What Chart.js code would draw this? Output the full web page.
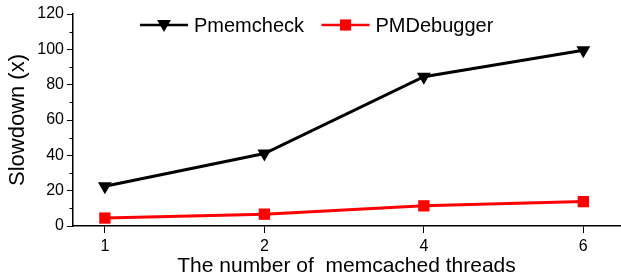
<!DOCTYPE html>
<html><head><meta charset="utf-8">
<script src="https://cdn.jsdelivr.net/npm/chart.js@4"></script>
<style>html,body{margin:0;padding:0;background:#fff}#wrap{width:621px;height:279px}</style>
</head><body><div id="wrap"><canvas id="c" width="621" height="279"></canvas></div>
<script>
const threadLabels = ['1', '2', '4', '6'];
const pmemcheck = [22.5, 41, 84.5, 99.5];
const pmdebugger = [4.5, 6.7, 11.4, 13.8];
const seriesNames = ['Pmemcheck', 'PMDebugger'];
const seriesColors = ['#000000', '#ff0000'];
const seriesMarkers = ['triangle', 'rect'];
const yTickStep = 20;
const yMax = 120;
const xTitle = 'The number of  memcached threads';
const yTitle = 'Slowdown (x)';

const FONT = '"Liberation Sans", Arial, sans-serif';

function toPoints(vals) { return vals.map((v, i) => ({ x: i + 1, y: v })); }

function drawMarker(ctx, type, x, y, color) {
  ctx.save();
  ctx.fillStyle = color;
  ctx.beginPath();
  if (type === 'triangle') {
    const r = 8;
    ctx.moveTo(x, y + r);
    ctx.lineTo(x - r * Math.sin(Math.PI / 3), y - r / 2);
    ctx.lineTo(x + r * Math.sin(Math.PI / 3), y - r / 2);
    ctx.closePath();
  } else {
    const s = 5.6;
    ctx.rect(x - s, y - s, 2 * s, 2 * s);
  }
  ctx.fill();
  ctx.restore();
}

const extras = {
  id: 'extras',
  afterDraw(chart) {
    const ctx = chart.ctx;
    const ys = chart.scales.y;
    const ca = chart.chartArea;
    ctx.save();
    ctx.strokeStyle = '#000';
    ctx.lineWidth = 1;
    for (let v = yTickStep / 2; v < yMax; v += yTickStep) {
      const py = Math.round(ys.getPixelForValue(v)) + 0.5;
      ctx.beginPath();
      ctx.moveTo(ca.left - 3.5, py);
      ctx.lineTo(ca.left, py);
      ctx.stroke();
    }
    ctx.restore();
    ctx.save();
    ctx.font = '20px ' + FONT;
    ctx.textBaseline = 'middle';
    ctx.textAlign = 'left';
    let x = ca.left + 67;
    const y = ca.top + 11;
    chart.data.datasets.forEach((ds, i) => {
      ctx.strokeStyle = ds.borderColor;
      ctx.lineWidth = 2.6;
      ctx.beginPath();
      ctx.moveTo(x, y);
      ctx.lineTo(x + 48, y);
      ctx.stroke();
      drawMarker(ctx, seriesMarkers[i], x + 24, y + (seriesMarkers[i] === 'triangle' ? -1 : 0), ds.borderColor);
      ctx.fillStyle = '#000';
      ctx.fillText(ds.label, x + 54, y + 1);
      x += 54 + ctx.measureText(ds.label).width + 17.5;
    });
    ctx.restore();
  }
};

new Chart(document.getElementById('c'), {
  type: 'line',
  data: {
    datasets: seriesNames.map((name, i) => ({
      label: name,
      data: toPoints(i === 0 ? pmemcheck : pmdebugger),
      borderColor: seriesColors[i],
      backgroundColor: seriesColors[i],
      borderWidth: 3,
      pointStyle: seriesMarkers[i],
      pointRadius: 8,
      pointRotation: i === 0 ? 180 : 0,
      pointBorderWidth: 0,
      pointBackgroundColor: seriesColors[i],
      tension: 0
    }))
  },
  options: {
    responsive: false,
    animation: false,
    devicePixelRatio: 1,
    layout: { autoPadding: false, padding: { left: 0, right: 1, top: 14, bottom: 0 } },
    plugins: { legend: { display: false }, tooltip: { enabled: false } },
    scales: {
      x: {
        type: 'linear',
        min: 0.8,
        max: 4.23,
        afterBuildTicks: s => { s.ticks = threadLabels.map((_, i) => ({ value: i + 1 })); },
        afterFit: s => { s.height = 53; s.paddingLeft = 0; s.paddingRight = 0; },
        ticks: {
          callback: v => threadLabels[v - 1] || '',
          font: { family: FONT, size: 16 },
          color: '#000',
          padding: 4,
          maxRotation: 0,
          autoSkip: false
        },
        grid: { drawOnChartArea: false, drawTicks: true, tickLength: 7, color: '#000', lineWidth: 1 },
        border: { color: '#000', width: 1.5 },
        title: { display: true, text: xTitle, color: '#000', font: { family: FONT, size: 21 }, padding: { top: 0, bottom: 0 } }
      },
      y: {
        min: 0,
        max: yMax,
        afterFit: s => { s.width = 73; },
        ticks: {
          stepSize: yTickStep,
          font: { family: FONT, size: 16 },
          color: '#000',
          padding: 3
        },
        grid: { drawOnChartArea: false, drawTicks: true, tickLength: 6, color: '#000', lineWidth: 1 },
        border: { color: '#000', width: 1.5 },
        title: { display: true, text: yTitle, color: '#000', font: { family: FONT, size: 22 }, padding: { top: 5, bottom: 0 } }
      }
    }
  },
  plugins: [extras]
});
</script>
</body></html>
